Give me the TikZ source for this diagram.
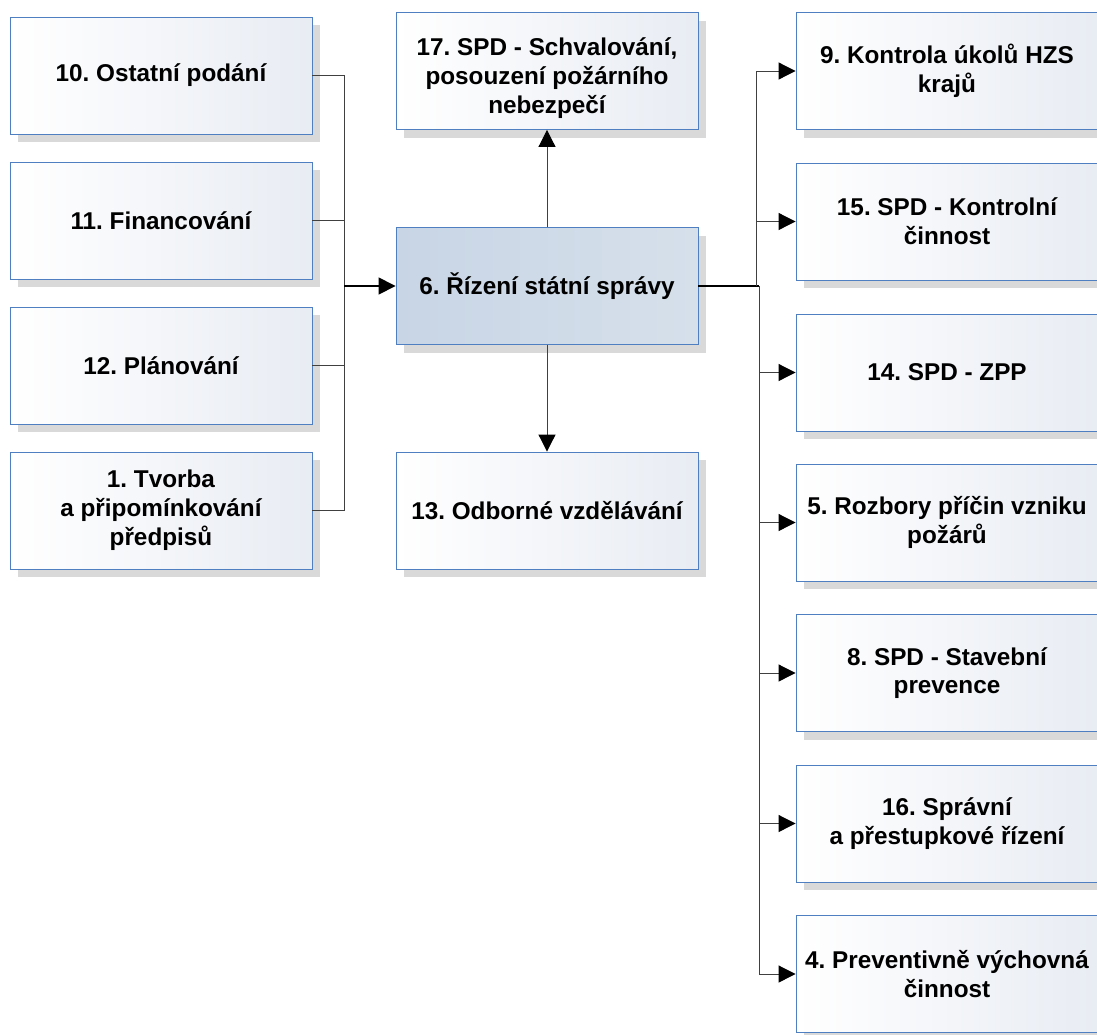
\documentclass[tikz,border=0pt]{standalone}
\usepackage{fontspec}
\setmainfont{Liberation Sans}
\usetikzlibrary{arrows.meta,shadows}
\definecolor{bordr}{HTML}{4F7FC0}
\definecolor{boxend}{HTML}{E8ECF3}
\definecolor{cenA}{HTML}{C8D5E5}
\definecolor{cenB}{HTML}{D6E0EB}
\definecolor{shad}{HTML}{D9D9D9}
\tikzset{
  box/.style={rectangle, draw=bordr, line width=0.9pt, minimum width=302pt, minimum height=117pt,
    left color=white, right color=boxend, align=center, inner sep=0pt,
    font=\fontsize{24.3}{28.8}\selectfont\bfseries\frenchspacing,
    drop shadow={shadow xshift=8pt, shadow yshift=-8pt, fill=shad, opacity=1}},
  cbox/.style={box, left color=cenA, right color=cenB},
  conn/.style={draw=black!75, line width=1pt},
  arr/.style={conn, -{Triangle[length=17pt,width=17pt,black]}},
}
\begin{document}
\begin{tikzpicture}[x=1pt,y=-1pt]
\clip (0,0) rectangle (1097,1034);
\fill[white] (0,0) rectangle (1097,1034);
% left column
\node[box] (n10) at (161,75.5) {10. Ostatní podání};
\node[box] (n11) at (161,220.5) {11. Financování};
\node[box] (n12) at (161,365.5) {12. Plánování};
\node[box] (n1) at (161,510.5) {1. Tvorba\\a připomínkování\\předpisů};
% center column
\node[box] (n17) at (547,71) {\rule{0pt}{32pt}17. SPD - Schvalování,\\posouzení požárního\\nebezpečí};
\node[cbox] (n6) at (547,286) {6. Řízení státní správy};
\node[box] (n13) at (547,510.5) {13. Odborné vzdělávání};
% right column
\node[box] (n9) at (947,71) {9. Kontrola úkolů HZS\\krajů};
\node[box] (n15) at (947,221.5) {15. SPD - Kontrolní\\činnost};
\node[box] (n14) at (947,372.5) {14. SPD - ZPP};
\node[box] (n5) at (947,522.5) {5. Rozbory příčin vzniku\\požárů};
\node[box] (n8) at (947,673) {8. SPD - Stavební\\prevence};
\node[box] (n16) at (947,823.5) {16. Správní\\a přestupkové řízení};
\node[box] (n4) at (947,974) {4. Preventivně výchovná\\činnost};
% left bus
\coordinate (lb) at (344,286);
\draw[conn] (n10.east) -| (lb);
\draw[conn] (n1.east) -| (lb);
\draw[conn] (n11.east) -- (n11.east -| lb);
\draw[conn] (n12.east) -- (n12.east -| lb);
\draw[arr, draw=black, line width=1.5pt] (lb) -- (n6.west);
% vertical
\draw[arr] (n6.north) -- (n17.south);
\draw[arr] (n6.south) -- (n13.north);
% right bus
\coordinate (rbu) at (756,286);
\coordinate (rbd) at (759,286);
\draw[draw=black, line width=1.5pt] (n6.east) -- (rbd);
\draw[arr] (rbu) |- (n9.west);
\draw[arr] (rbu) |- (n15.west);
\draw[arr] (rbd) |- (n14.west);
\draw[arr] (rbd) |- (n5.west);
\draw[arr] (rbd) |- (n8.west);
\draw[arr] (rbd) |- (n16.west);
\draw[arr] (rbd) |- (n4.west);
\end{tikzpicture}
\end{document}
